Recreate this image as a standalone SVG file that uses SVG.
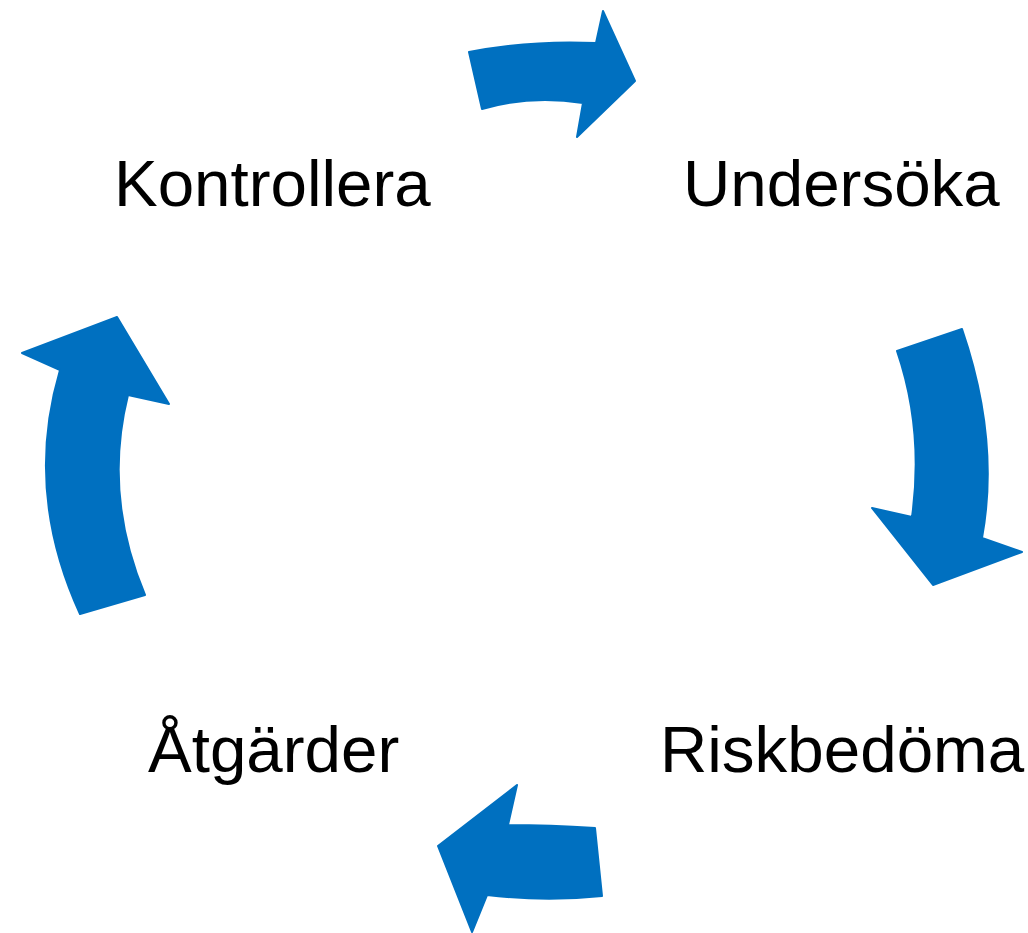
<svg xmlns="http://www.w3.org/2000/svg" width="1028" height="933" viewBox="0 0 1028 933">
<style>
.arrow{fill:#0070C0;stroke:#0070C0;stroke-width:2;stroke-linejoin:round}
.label{font-family:"Liberation Sans",Arial,sans-serif;font-size:65.5px;fill:#000}
</style>
<rect width="1028" height="933" fill="#fff"/>
<g id="connectors">
<path class="arrow" d="M469,52 Q530,40 596,43 L603,11 L635,81 L577,137 L583,103 Q530,95 482,109 Z"/>
<path class="arrow" d="M897,351 L962,329 Q1000,440 982,538 L1022,552 L933,585 L872,508 L912,517 Q924,430 897,351 Z"/>
<path class="arrow" d="M595,828 Q550,825 508,825 L517,785 L438,846 L472,932 L487,895 Q545,902 602,896 Z"/>
<path class="arrow" d="M22,353 L117,317 L169,404 L128,395 Q103,495 145,595 L80,614 Q24,492 60,370 Z"/>
</g>
<g id="node-kontrollera"><text class="label" x="114" y="206">Kontrollera</text></g>
<g id="node-undersoka"><text class="label" x="683" y="206">Undersöka</text></g>
<g id="node-riskbedoma"><text class="label" x="660" y="772">Riskbedöma</text></g>
<g id="node-atgarder"><text class="label" x="148" y="772">Åtgärder</text></g>
</svg>
